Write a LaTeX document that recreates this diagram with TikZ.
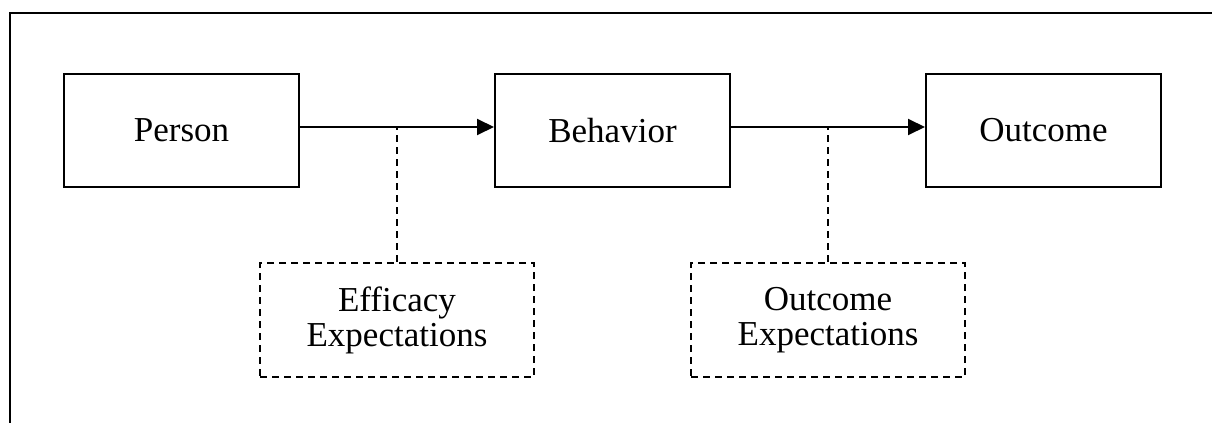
\documentclass[tikz,border=0pt]{standalone}
\usepackage{fontspec}
\setmainfont{Liberation Serif}
\usetikzlibrary{arrows.meta}
\usetikzlibrary{calc}
\begin{document}
\begin{tikzpicture}
			[x=0.5pt, y=-0.5pt,
			stage/.style={draw, line width=1pt, minimum width=117.5pt, minimum height=56.5pt, font=\fontsize{17.5}{19}\selectfont},
			expect/.style={draw, dashed, dash pattern=on 3.5pt off 2.5pt, line width=1.1pt, minimum width=137pt, minimum height=57pt, align=center, font=\fontsize{17.5}{17.5}\selectfont},
			link/.style={line width=1pt, -{Triangle[length=8.5pt,width=8pt]}}]
			\useasboundingbox (0,0) rectangle (1212,423);
			\draw[line width=1.4pt] (10,423) -- (10,13) -- (1212,13);
			\node[stage] (person) at (181.5,130.5) {Person};
			\node[stage] (behavior) at (612.5,130.5) {Behavior};
			\node[stage] (outcome) at (1043.5,130.5) {Outcome};
			\node[expect] (efficacy) at (397,320) {Efficacy\\Expectations};
			\node[expect] (outexp) at (828,320) {Outcome\\Expectations};
			\coordinate (pb) at ($([yshift=1.75pt]person.east)!0.5!([yshift=1.75pt]behavior.west)$);
			\coordinate (bo) at ($([yshift=1.75pt]behavior.east)!0.5!([yshift=1.75pt]outcome.west)$);
			\draw[link] ([yshift=1.75pt]person.east) -- ([yshift=1.75pt]behavior.west);
			\draw[link] ([yshift=1.75pt]behavior.east) -- ([yshift=1.75pt]outcome.west);
			\draw[dashed, dash pattern=on 3.5pt off 2.5pt, line width=1.1pt] (efficacy) -- (pb);
			\draw[dashed, dash pattern=on 3.5pt off 2.5pt, line width=1.1pt] (outexp) -- (bo);
			\end{tikzpicture}
\end{document}
